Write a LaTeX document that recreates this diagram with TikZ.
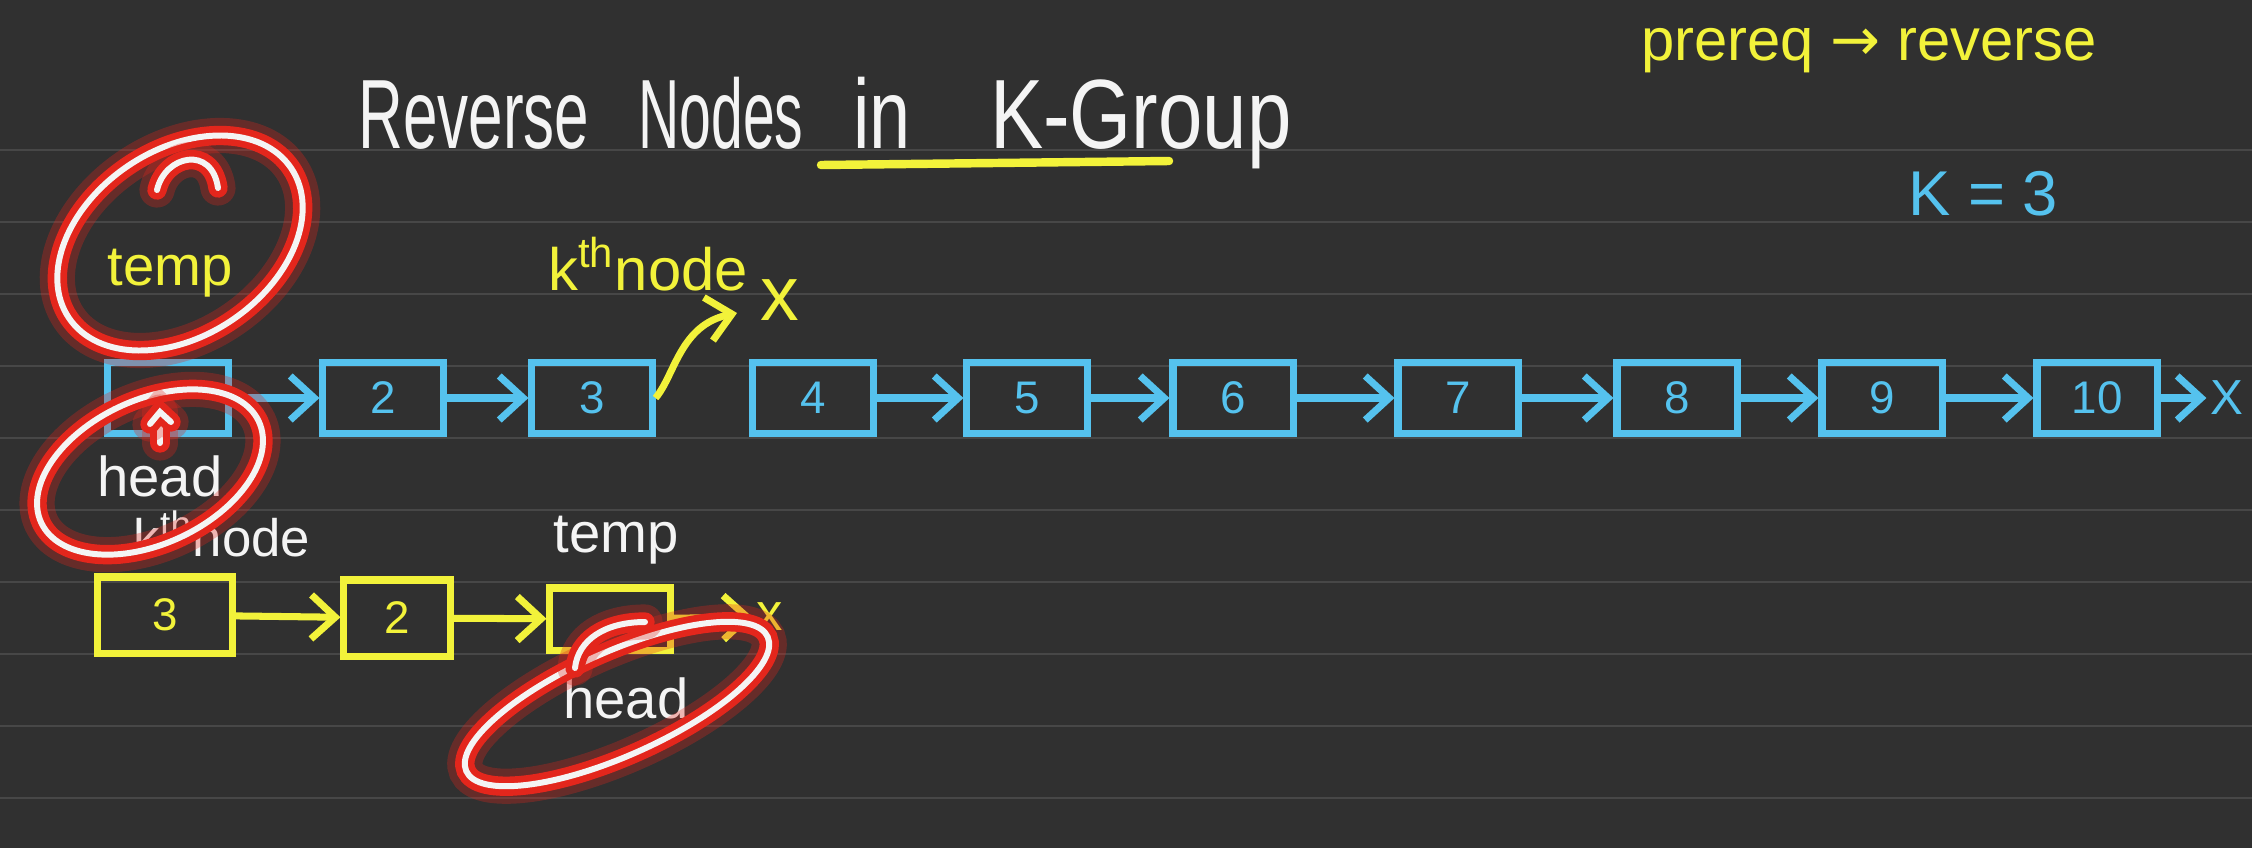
\documentclass[tikz,border=0pt]{standalone}
\usepackage{fontspec}
\setmainfont{Liberation Sans}
\newfontfamily\djv{DejaVu Sans}
\usetikzlibrary{arrows.meta}
\definecolor{bg}{HTML}{303030}
\definecolor{ruleline}{HTML}{474747}
\definecolor{sky}{HTML}{55C2EE}
\definecolor{yel}{HTML}{F2F23A}
\definecolor{chalk}{HTML}{F4F4F4}
\definecolor{hl}{HTML}{E3261C}
\begin{document}
\begin{tikzpicture}[x=0.01cm,y=-0.01cm,
  txt/.style={inner sep=0pt, anchor=base},
  f13/.style={font=\fontsize{13}{15}\selectfont},
  f15/.style={font=\fontsize{15}{17}\selectfont},
  f16/.style={font=\fontsize{16}{18}\selectfont},
  f17/.style={font=\fontsize{17}{19}\selectfont},
  bbox/.style={draw=sky, line width=2pt, minimum width=1.2cm, minimum height=0.71cm, inner sep=0pt, text=sky, f13},
  ybox/.style={draw=yel, line width=2pt, minimum width=1.2cm, minimum height=0.72cm, inner sep=0pt, text=yel, f13},
  barrow/.style={draw=sky, line width=2pt, -{Straight Barb[length=2.4mm,width=4.4mm]}},
  yarrow/.style={draw=yel, line width=2pt, -{Straight Barb[length=2.4mm,width=4.4mm]}},
  glow/.style={draw=chalk, line width=1.7pt, line cap=round,
    preaction={draw=hl, opacity=.3, line width=10pt, line cap=round},
    preaction={draw=hl, line width=5.5pt, line cap=round}}
]
\fill[bg] (0,0) rectangle (2252,848);
\useasboundingbox (0,0) rectangle (2252,848);
\foreach \k in {0,...,9} \draw[ruleline, line width=0.8pt] (0,{150+72*\k}) -- (2252,{150+72*\k});

% title and notes
\node[txt, text=chalk, font=\fontsize{28}{32}\selectfont] (title) at (825,148)
  {\scalebox{0.63}[1]{Reverse}\hspace{0.49cm}\scalebox{0.58}[1]{Nodes}\hspace{0.5cm}\scalebox{0.75}[1]{in}\hspace{0.79cm}\scalebox{0.81}[1]{K-Group}};
\draw[yel, line width=2.4pt, line cap=round] (821,165) -- (1169,161);
\node[txt, text=yel, f17] (prereq) at (1869,60) {prereq {\djv →} reverse};
\node[txt, text=sky, font=\fontsize{18}{20}\selectfont] (kval) at (1983,215) {K = 3};

% top row
\node[bbox] (b1) at (168,398) {};
\node[bbox] (b2) at (383,398) {2};
\node[bbox] (b3) at (592,398) {3};
\node[bbox] (b4) at (813,398) {4};
\node[bbox] (b5) at (1027,398) {5};
\node[bbox] (b6) at (1233,398) {6};
\node[bbox] (b7) at (1458,398) {7};
\node[bbox] (b8) at (1677,398) {8};
\node[bbox] (b9) at (1882,398) {9};
\node[bbox] (b10) at (2097,398) {10};
\node[text=sky, font=\fontsize{14}{16}\selectfont, inner sep=1pt] (xend) at (2227,398) {X};
\draw[barrow] (b1) -- (b2);
\draw[barrow] (b2) -- (b3);
\draw[barrow] (b4) -- (b5);
\draw[barrow] (b5) -- (b6);
\draw[barrow] (b6) -- (b7);
\draw[barrow] (b7) -- (b8);
\draw[barrow] (b8) -- (b9);
\draw[barrow] (b9) -- (b10);
\draw[barrow] (b10) -- (xend);

% top labels
\node[txt, text=yel, f16] (temp1) at (170,285) {temp};
\node[txt, text=yel, f17] (kth1) at (648,290) {k\textsuperscript{th}node};
\node[text=yel, font=\fontsize{22}{24}\selectfont, inner sep=1pt] (xk) at (780,300) {x};
\coordinate (kend) at (737,313);
\draw[yarrow] (b3.east) .. controls (675,375) and (680,325) .. (kend);
\node[txt, text=chalk, f16] (head1) at (160,496) {head};

% bottom row
\node[txt, text=chalk, f15] (kth2) at (222,556) {k\textsuperscript{th}node};
\node[txt, text=chalk, f16] (temp2) at (616,552) {temp};
\node[ybox, minimum width=1.35cm, minimum height=0.76cm] (y3) at (165,615) {3};
\node[ybox, minimum width=1.06cm, minimum height=0.76cm] (y2) at (397,618) {2};
\node[ybox, minimum width=1.2cm, minimum height=0.62cm] (y1) at (610,619) {};
\node[text=yel, font=\fontsize{15}{17}\selectfont, inner sep=1pt] (xb) at (770,617) {x};
\draw[yarrow] (y3) -- (y2);
\draw[yarrow] (y2) -- (y1);
\draw[yarrow] (y1) -- (xb);
\node[txt, text=chalk, f16] (head2) at (626,718) {head};

% highlight rings and pointer marks
\draw[glow, rotate around={34:(180,243)}] (180,243) ellipse [x radius=134, y radius=93];
\draw[glow] (157,190) .. controls (165,155) and (212,145) .. (218,188);
\draw[glow, rotate around={25:(150,472)}] (150,472) ellipse [x radius=120, y radius=72];
\draw[glow] (160,443) -- (160,412);
\draw[glow] (150,424) -- (160,412) -- (171,422);
\draw[glow, rotate around={24:(617,704)}] (617,704) ellipse [x radius=165, y radius=52];
\draw[glow] (645,622) .. controls (605,622) and (578,640) .. (575,668);
\end{tikzpicture}
\end{document}
